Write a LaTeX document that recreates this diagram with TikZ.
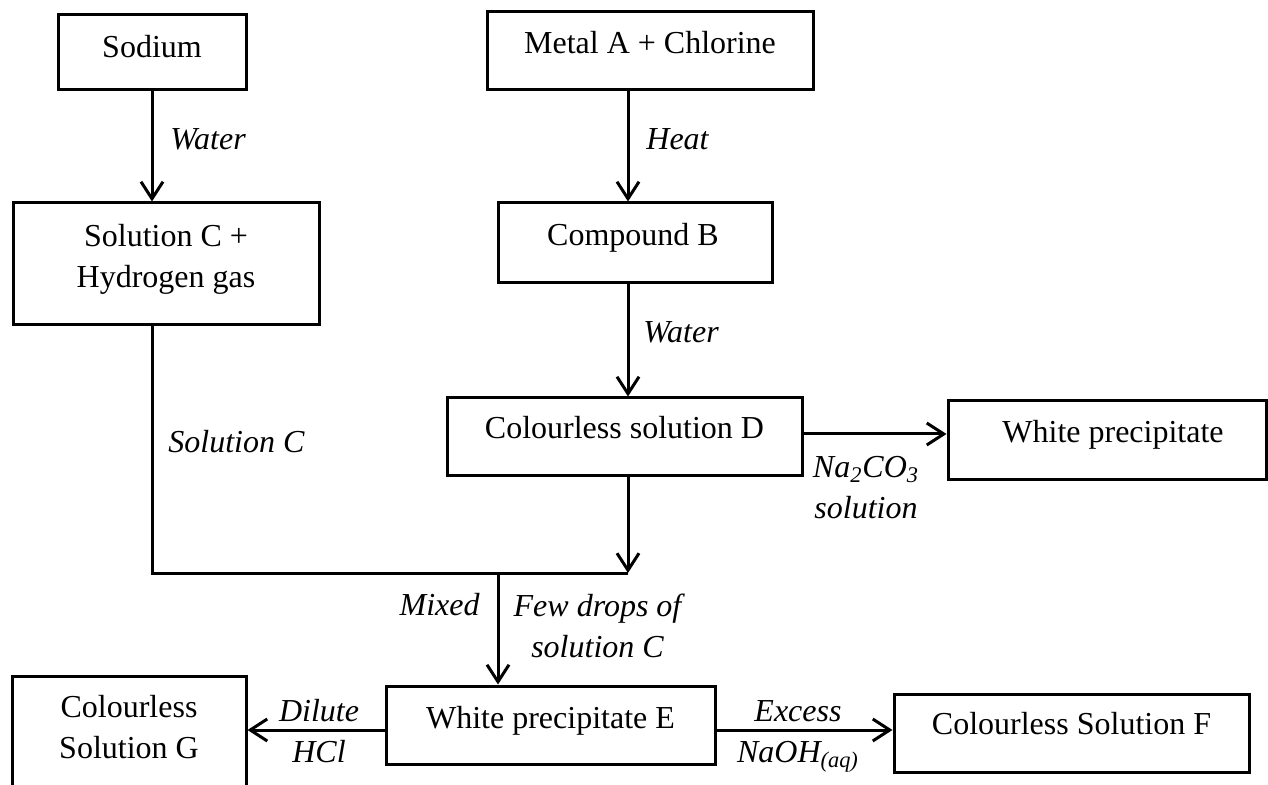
\documentclass[tikz,border=0pt]{standalone}
\usepackage{fontspec}
\setmainfont{Liberation Serif}
\usetikzlibrary{arrows.meta,calc}
\begin{document}
\begin{tikzpicture}[x=0.5pt,y=-0.5pt,
  box/.style={draw, line width=1.5pt, rectangle, inner sep=0pt},
  txt/.style={anchor=base, align=center, inner sep=0pt, font=\fontsize{16}{20.5}\selectfont},
  lab/.style={txt, font=\fontsize{16}{20.5}\selectfont\itshape},
  conn/.style={line width=1.5pt},
  arr/.style={conn, -{Straight Barb[length=8.5pt,width=11pt]}}
]
\useasboundingbox (0,0) rectangle (1268,785);
\clip (0,0) rectangle (1268,785);

% boxes
\node[box, minimum width=94pt, minimum height=37.5pt] (na) at (152,52.5) {};
\node[txt] (tna) at (152,58) {Sodium};
\node[box, minimum width=163pt, minimum height=39pt] (ma) at (650,51) {};
\node[txt] (tma) at (650,54) {Metal A + Chlorine};
\node[box, minimum width=153pt, minimum height=61pt] (sc) at (166,264) {};
\node[txt] (tsc) at (166,288) {Solution C +\\Hydrogen gas};
\node[box, minimum width=137pt, minimum height=40pt] (cb) at (635,243) {};
\node[txt] (tcb) at (633,246) {Compound B};
\node[box, minimum width=177.5pt, minimum height=39pt] (cd) at (624.5,437) {};
\node[txt] (tcd) at (624.5,439) {Colourless solution D};
\node[box, minimum width=159pt, minimum height=39.5pt] (wp) at (1107,440.5) {};
\node[txt] (twp) at (1113,443) {White precipitate};
\node[box, minimum width=164.5pt, minimum height=39pt] (pe) at (550.5,725) {};
\node[txt] (tpe) at (550.5,728) {White precipitate E};
\node[box, minimum width=177.5pt, minimum height=39pt] (sf) at (1071.5,733) {};
\node[txt] (tsf) at (1071.5,734) {Colourless Solution F};
\node[box, minimum width=117pt, minimum height=67pt] (sg) at (129,743) {};
\node[txt] (tsg) at (129,758) {Colourless\\Solution G};

% helper coordinates
\coordinate (colL) at (152,0);
\coordinate (colR) at (628,0);
\coordinate (colM) at (498,0);
\coordinate (join) at (628,573);
\coordinate (corner) at (152,573);
\coordinate (split) at (498,573);
\coordinate (rowD) at (0,434);
\coordinate (rowE) at (0,730);

% connectors
\draw[arr] (na.south) -- (na.south |- sc.north);
\draw[arr] (ma.south -| colR) -- (cb.north -| colR);
\draw[arr] (cb.south -| colR) -- (cd.north -| colR);
\draw[arr] (cd.south -| colR) -- (join);
\draw[conn] (sc.south -| colL) -- (corner) -- (join);
\draw[arr] (split) -- (pe.north -| split);
\draw[arr] (cd.east |- rowD) -- (wp.west |- rowD);
\draw[arr] (pe.west |- rowE) -- (sg.east |- rowE);
\draw[arr] (pe.east |- rowE) -- (sf.west |- rowE);

% labels
\node[lab, anchor=base west] (lw1) at (170,150) {Water};
\node[lab, anchor=base west] (lh) at (646,150) {Heat};
\node[lab, anchor=base west] (lw2) at (643,343) {Water};
\node[lab, anchor=base west] (lsc) at (168,453) {Solution C};
\node[lab] (lna) at (866,518) {Na\textsubscript{2}CO\textsubscript{3}\\solution};
\node[lab, anchor=base east] (lmx) at (480,615) {Mixed};
\node[lab] (lfd) at (597.5,657) {Few drops of\\solution C};
\node[lab] (ldh) at (319,762) {Dilute\\HCl};
\node[lab] (lex) at (798,762) {Excess\\NaOH\textsubscript{(aq)}};
\end{tikzpicture}
\end{document}
